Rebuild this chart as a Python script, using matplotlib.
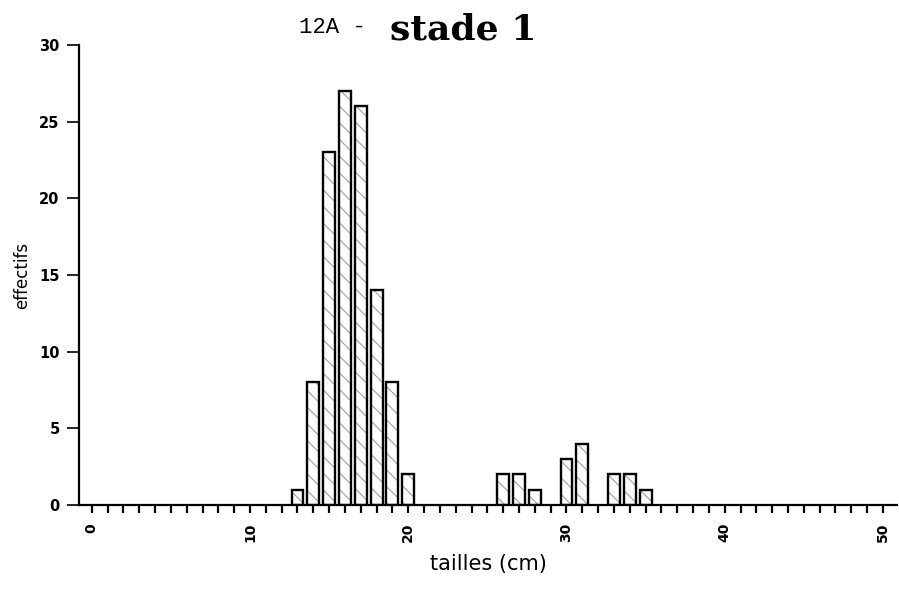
import matplotlib.pyplot as plt
import numpy as np

# tailles (cm) et effectifs
tailles = [13, 14, 15, 16, 17, 18, 19, 20, 26, 27, 28, 30, 31, 33, 34, 35]
effectifs = [1, 8, 23, 27, 26, 14, 8, 2, 2, 2, 1, 3, 4, 2, 2, 1]
xticks = [0, 10, 20, 30, 40, 50]
yticks = [0, 5, 10, 15, 20, 25, 30]

plt.rcParams['hatch.linewidth'] = 0.8

fig = plt.figure(figsize=(8.99, 5.9), dpi=100)
ax = fig.add_axes([0.088, 0.144, 0.910, 0.780])

# hachures grises puis contour noir par-dessus
ax.bar(tailles, effectifs, width=0.75, color='white', edgecolor='#a0a0a0',
       linewidth=0, hatch='\\\\')
ax.bar(tailles, effectifs, width=0.75, fill=False, edgecolor='black',
       linewidth=1.7)

ax.set_xlim(-0.8, 50.9)
ax.set_ylim(0, 30)

for s in ['top', 'right']:
    ax.spines[s].set_visible(False)
for s in ['left', 'bottom']:
    ax.spines[s].set_linewidth(1.6)

ax.set_xticks(np.arange(0, 51, 1), minor=True)
ax.set_xticks(xticks)
ax.set_xticklabels([str(v) for v in xticks], rotation=90, fontsize=10,
                   fontweight='bold')
ax.tick_params(axis='x', which='both', direction='out', length=6, width=1.6,
               pad=7)
ax.set_yticks(yticks)
ax.set_yticklabels([str(v) for v in yticks], fontsize=10.5, fontweight='bold')
ax.tick_params(axis='y', direction='out', length=9, width=1.2, pad=5)

ax.set_xlabel('tailles (cm)', fontsize=15, labelpad=8)
ax.set_ylabel('effectifs', fontsize=12, labelpad=6)

fig.text(0.333, 0.953, '12A -', family='Liberation Mono', fontsize=16,
         ha='left', va='center')
fig.text(0.434, 0.950, 'stade 1', family='DejaVu Serif', fontweight='bold',
         fontsize=26, ha='left', va='center')

fig.savefig('out.png', dpi=100)
